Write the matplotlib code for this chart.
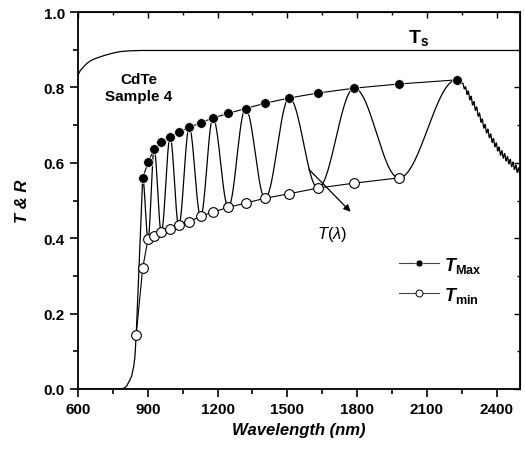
import numpy as np
import matplotlib
matplotlib.use("Agg")
from matplotlib import pyplot as plt
from matplotlib.lines import Line2D
from matplotlib.ticker import MultipleLocator

plt.rcParams['font.family'] = ['Liberation Sans', 'DejaVu Sans']
plt.rcParams['mathtext.fontset'] = 'custom'
plt.rcParams['mathtext.rm'] = 'Liberation Sans'
plt.rcParams['mathtext.it'] = 'Liberation Sans:italic'
plt.rcParams['mathtext.bf'] = 'Liberation Sans:bold'
plt.rcParams['mathtext.bfit'] = 'Liberation Sans:bold:italic'

# substrate transmission Ts
ts_wl = [600, 610, 623, 637, 652, 672, 695, 720, 750, 781, 820, 870, 2500]
ts_val = [0.833, 0.845, 0.854, 0.863, 0.870, 0.876, 0.881, 0.886, 0.891, 0.895, 0.897, 0.898, 0.898]

# absorption edge of the measured spectrum
edge_wl = [600, 788, 800, 810, 820, 831, 840, 845, 850, 865, 878]
edge_val = [0.0, 0.0, 0.003, 0.009, 0.020, 0.035, 0.062, 0.088, 0.142, 0.36, 0.560]

# interference extrema (alternating peak / trough)
ext_wl = [878, 901, 927, 958, 996, 1033, 1078, 1127, 1180, 1246,
          1320, 1404, 1508, 1631, 1787, 1979, 2227]
ext_val = [0.560, 0.398, 0.636, 0.416, 0.668, 0.434, 0.694, 0.458, 0.719, 0.482,
           0.744, 0.506, 0.772, 0.533, 0.798, 0.560, 0.820]

# tail after last maximum
tail_wl = [2227, 2250, 2273, 2310, 2344, 2380, 2416, 2460, 2500]
tail_val = [0.820, 0.812, 0.788, 0.745, 0.700, 0.662, 0.628, 0.600, 0.575]

# envelopes
tmax_wl = [878, 901, 927, 958, 996, 1033, 1078, 1127, 1180, 1246,
           1320, 1404, 1508, 1631, 1787, 1979, 2227]
tmax_val = [0.560, 0.601, 0.636, 0.655, 0.668, 0.681, 0.694, 0.706, 0.719, 0.731,
            0.744, 0.758, 0.772, 0.785, 0.798, 0.809, 0.820]
tmin_wl = [850, 878, 901, 927, 958, 996, 1033, 1078, 1127, 1180, 1246,
           1320, 1404, 1508, 1631, 1787, 1979]
tmin_val = [0.142, 0.321, 0.398, 0.407, 0.416, 0.425, 0.434, 0.444, 0.458, 0.469, 0.482,
            0.493, 0.506, 0.518, 0.533, 0.546, 0.560]

fig = plt.figure(figsize=(5.25, 4.52), dpi=100)
ax = fig.add_axes([0.1486, 0.1372, 0.8419, 0.834])

# build the T(lambda) curve: edge, then smooth half waves between extrema, then tail
x_edge = np.linspace(600, 878, 300)
y_edge = np.interp(x_edge, edge_wl, edge_val)
xs, ys = [x_edge], [y_edge]
for i in range(len(ext_wl) - 1):
    a, b = ext_wl[i], ext_wl[i + 1]
    t = np.linspace(0, 1, 60)
    xs.append(a + (b - a) * t)
    ys.append(ext_val[i] + (ext_val[i + 1] - ext_val[i]) * (1 - np.cos(np.pi * t)) / 2)
x_tail = np.linspace(2227, 2500, 600)
y_tail = np.interp(x_tail, tail_wl, tail_val)
# small detector ripple on the tail
y_tail = y_tail + 0.008 * np.sin(2 * np.pi * (x_tail - 2227) / 12) * np.clip((x_tail - 2235) / 40, 0, 1)
xs.append(x_tail)
ys.append(y_tail)
x_curve = np.concatenate(xs)
y_curve = np.concatenate(ys)

ax.plot(x_curve, y_curve, color='black', lw=0.9)
ax.plot(ts_wl, ts_val, color='black', lw=0.9)

ax.plot(tmax_wl, tmax_val, color='black', lw=0.8, marker='o', ms=7,
        mfc='black', mec='white', mew=0.5)
ax.plot(tmin_wl, tmin_val, color='black', lw=0.8, marker='o', ms=7,
        mfc='white', mec='black', mew=0.8)

ax.set_xlim(600, 2500)
ax.set_ylim(0, 1.0)
ax.xaxis.set_major_locator(MultipleLocator(300))
ax.xaxis.set_minor_locator(MultipleLocator(150))
ax.yaxis.set_major_locator(MultipleLocator(0.2))
ax.yaxis.set_minor_locator(MultipleLocator(0.1))
ax.set_xticks([600, 900, 1200, 1500, 1800, 2100, 2400])
ax.yaxis.set_major_formatter(plt.FormatStrFormatter('%.1f'))

ax.tick_params(which='both', direction='out', width=1.2, labelsize=11)
ax.tick_params(which='major', length=6)
ax.tick_params(which='minor', length=3.5)
for lbl in ax.get_xticklabels() + ax.get_yticklabels():
    lbl.set_fontweight('bold')
for s in ax.spines.values():
    s.set_linewidth(1.3)

# inward ticks on top/right
ax2 = ax.secondary_xaxis('top')
ax2.xaxis.set_major_locator(MultipleLocator(300))
ax2.xaxis.set_minor_locator(MultipleLocator(150))
ax2.tick_params(which='both', direction='in', labeltop=False, width=1.0)
ax2.tick_params(which='major', length=4)
ax2.tick_params(which='minor', length=2.5)
ax3 = ax.secondary_yaxis('right')
ax3.yaxis.set_major_locator(MultipleLocator(0.2))
ax3.yaxis.set_minor_locator(MultipleLocator(0.1))
ax3.tick_params(which='both', direction='in', labelright=False, width=1.0)
ax3.tick_params(which='major', length=4)
ax3.tick_params(which='minor', length=2.5)

ax.set_xlabel('Wavelength (nm)', fontsize=12, fontweight='bold', fontstyle='italic', labelpad=4)
ax.set_ylabel('T & R', fontsize=12, fontweight='bold', fontstyle='italic', labelpad=10)

ax.text(2065, 0.935, r'$\mathbf{T}_{\mathbf{s}}$', fontsize=14, ha='center', va='center')
ax.text(862, 0.80, 'CdTe\nSample 4', fontsize=11, fontweight='bold', ha='center', va='center',
        linespacing=1.3)

ax.annotate('', xy=(1780, 0.465), xytext=(1584, 0.588),
            arrowprops=dict(arrowstyle='-|>', color='black', lw=0.9, mutation_scale=10))
ax.text(1693, 0.412, r'$T(\lambda)$', fontsize=12, ha='center', va='center')

h1 = Line2D([], [], color='#444444', lw=0.8, marker='o', ms=5, mfc='black', mec='white', mew=0.4)
h2 = Line2D([], [], color='#444444', lw=0.8, marker='o', ms=5, mfc='white', mec='black', mew=0.7)
ax.legend([h1, h2], [r'$\mathbfit{T}_{\mathbf{Max}}$', r'$\mathbfit{T}_{\mathbf{min}}$'],
          loc='center left', bbox_to_anchor=(0.69, 0.29), frameon=False, fontsize=13,
          handlelength=2.2, handletextpad=0.3, labelspacing=0.55)

fig.savefig('out.png', dpi=100)
